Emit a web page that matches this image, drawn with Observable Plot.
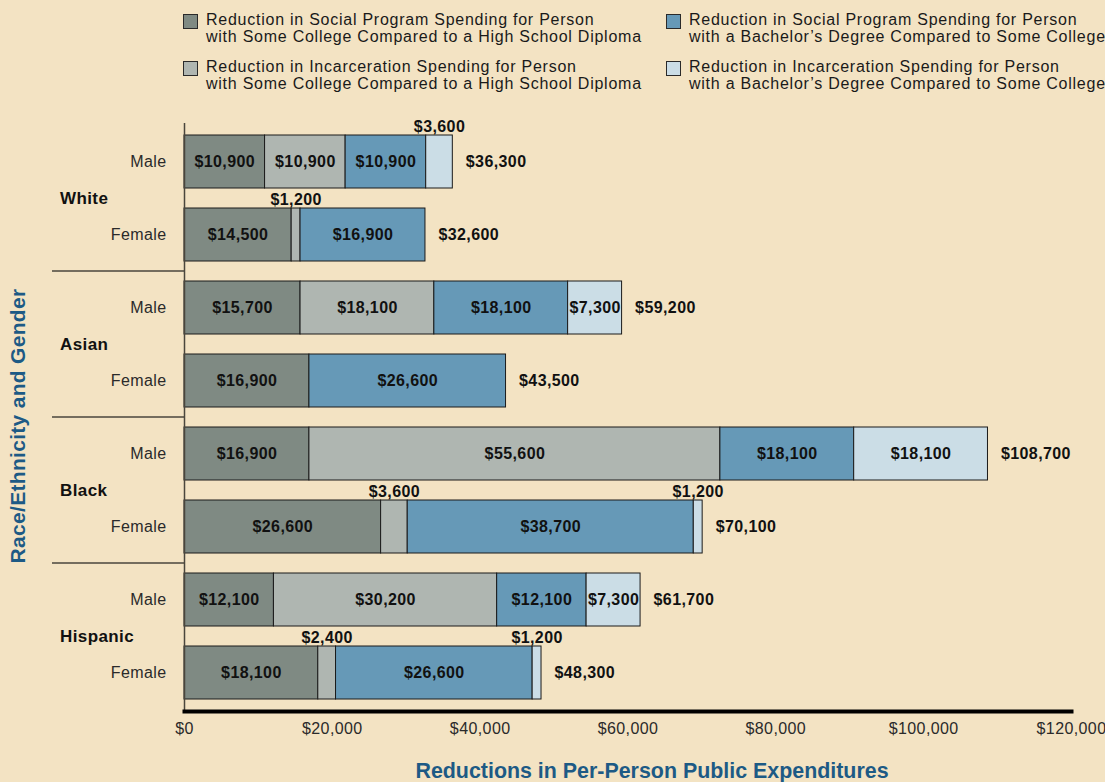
<!DOCTYPE html>
<html><head><meta charset="utf-8">
<script src="https://cdn.jsdelivr.net/npm/d3@7"></script>
<script src="https://cdn.jsdelivr.net/npm/@observablehq/plot@0.6"></script>
<style>
body{margin:0;background:#f3e3c3;}
#wrap{position:relative;width:1105px;height:782px;overflow:hidden;background:#f3e3c3;font-family:"Liberation Sans",Arial,sans-serif;}
.item{position:absolute;display:flex;font-size:16px;line-height:17px;color:#1a1a1a;letter-spacing:0.75px;white-space:nowrap}
.sw{width:13px;height:13px;border:1px solid #2a2a2a;margin-right:8px;margin-top:3px;flex:none}
#chart{position:absolute;left:0;top:110px;}
#chart svg text{letter-spacing:0.4px}
#ytitle{position:absolute;left:18px;top:426px;transform:translate(-50%,-50%) rotate(-90deg);font-weight:bold;font-size:21px;letter-spacing:0.3px;color:#1d5a85;white-space:nowrap}
#xtitle{position:absolute;left:652px;top:771px;transform:translate(-50%,-50%);font-family:"Liberation Sans Narrow","Liberation Sans",Arial,sans-serif;font-stretch:condensed;font-weight:bold;font-size:21.4px;color:#1d5a85;white-space:nowrap}
</style></head>
<body>
<div id="wrap">
  <div id="legend"></div>
  <div id="chart"></div>
  <div id="ytitle">Race/Ethnicity and Gender</div>
  <div id="xtitle">Reductions in Per-Person Public Expenditures</div>
</div>
<script>
// ---- data ----
const races = ["White", "Asian", "Black", "Hispanic"];
const genders = ["Male", "Female"];
const seriesNames = [
  "Reduction in Social Program Spending for Person\nwith Some College Compared to a High School Diploma",
  "Reduction in Incarceration Spending for Person\nwith Some College Compared to a High School Diploma",
  "Reduction in Social Program Spending for Person\nwith a Bachelor’s Degree Compared to Some College",
  "Reduction in Incarceration Spending for Person\nwith a Bachelor’s Degree Compared to Some College"
];
const seriesColors = ["#7f8a83", "#afb6b1", "#6699b7", "#cbdde6"];
// order of rows: White M, White F, Asian M, Asian F, Black M, Black F, Hispanic M, Hispanic F
const socialSomeCollege = [10900, 14500, 15700, 16900, 16900, 26600, 12100, 18100];
const incarcSomeCollege = [10900, 1200, 18100, 0, 55600, 3600, 30200, 2400];
const socialBachelor = [10900, 16900, 18100, 26600, 18100, 38700, 12100, 26600];
const incarcBachelor = [3600, 0, 7300, 0, 18100, 1200, 7300, 1200];
const totals = [36300, 32600, 59200, 43500, 108700, 70100, 61700, 48300];
const xTicks = [0, 20000, 40000, 60000, 80000, 100000, 120000];

// ---- build ----
const rows = races.flatMap(r => genders.map(g => r + "|" + g));
const seriesValues = [socialSomeCollege, incarcSomeCollege, socialBachelor, incarcBachelor];
const data = rows.flatMap((row, i) => seriesNames.map((s, k) => ({row, series: s, value: seriesValues[k][i]})));
const fmt = v => "$" + d3.format(",")(v);

// legend (HTML)
const legendPos = [[183, 11], [183, 58], [666, 11], [666, 58]];
const legend = d3.select("#legend");
seriesNames.forEach((s, k) => {
  const it = legend.append("div").attr("class", "item")
    .style("left", legendPos[k][0] + "px").style("top", legendPos[k][1] + "px");
  it.append("div").attr("class", "sw").style("background", seriesColors[k]);
  it.append("div").html(s.replace("\n", "<br>"));
});

const chart = Plot.plot({
  width: 1105, height: 672,
  marginLeft: 184, marginRight: 34, marginTop: 13, marginBottom: 72,
  style: {background: "transparent", fontFamily: "'Liberation Sans', Arial, sans-serif", fontSize: "16px", color: "#1a1a1a"},
  x: {domain: [0, 120000]},
  y: {domain: rows, paddingInner: 0.28, paddingOuter: 0.14},
  color: {domain: seriesNames, range: seriesColors},
  marks: [
    Plot.barX(data, {x: "value", y: "row", fill: "series", stroke: "#1a1a1a", strokeWidth: 1}),
    Plot.text(data, Plot.stackX({x: "value", y: "row", z: "series",
      text: d => d.value >= 5000 ? fmt(d.value) : "", fontWeight: "bold", fill: "#111"})),
    Plot.text(data, Plot.stackX({x: "value", y: "row", z: "series",
      text: d => (d.value > 0 && d.value < 5000) ? fmt(d.value) : "", fontWeight: "bold", fill: "#111", dy: -35})),
    Plot.text(rows, {x: totals, y: d => d, text: totals.map(fmt), textAnchor: "start", dx: 13, fontWeight: "bold", fill: "#111"}),
    Plot.ruleX([0], {stroke: "#4a463c", strokeWidth: 1.5}),
    Plot.frame({anchor: "bottom", stroke: "#000", strokeWidth: 4, dy: 1}),
    Plot.axisX({ticks: xTicks, tickFormat: fmt, tickSize: 0, tickPadding: 12, label: null, fill: "#2a2a2a"}),
    Plot.axisY({tickSize: 0, tickPadding: 18, tickFormat: d => d.split("|")[1], label: null, fill: "#2a2a2a"})
  ]
});
document.getElementById("chart").appendChild(chart);

// group labels and separators in left margin, placed from the y scale
const ys = chart.scale("y");
const bw = ys.bandwidth, step = ys.step;
const svg = d3.select(chart);
races.forEach((r, i) => {
  const m = ys.apply(r + "|Male"), f = ys.apply(r + "|Female");
  svg.append("text").attr("x", 60).attr("y", (m + f + bw) / 2).attr("dy", "0.35em")
    .attr("text-anchor", "start").attr("font-weight", "bold").attr("font-size", 17)
    .attr("fill", "#111").text(r);
  if (i < races.length - 1) {
    const sy = f + bw + (step - bw) / 2;
    svg.append("line").attr("x1", 52).attr("x2", 184).attr("y1", sy).attr("y2", sy)
      .attr("stroke", "#4a463c").attr("stroke-width", 1.5);
  }
});
</script>
</body></html>
